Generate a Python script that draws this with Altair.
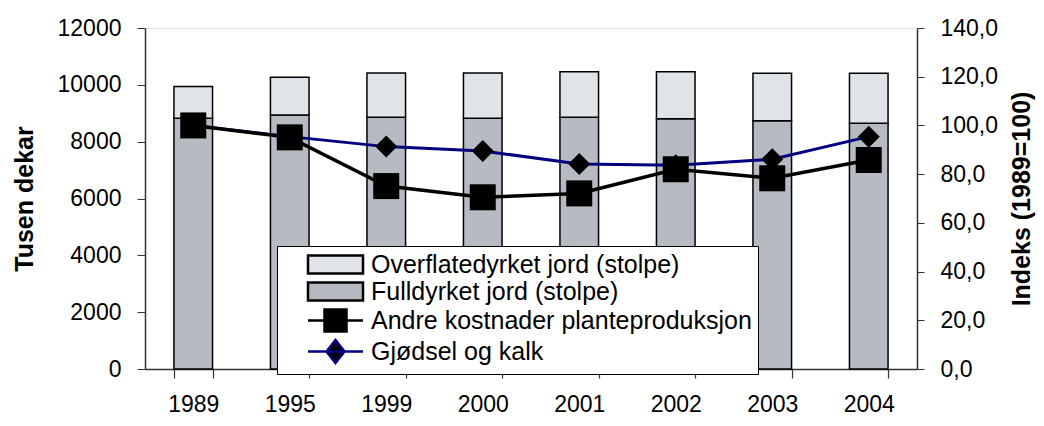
import altair as alt
import pandas as pd

years = ["1989", "1995", "1999", "2000", "2001", "2002", "2003", "2004"]
fulldyrket = [8820, 8940, 8860, 8820, 8860, 8810, 8740, 8650]
overflatedyrket = [1120, 1325, 1555, 1595, 1600, 1650, 1665, 1755]
andre_kostnader = [100.0, 95.1, 75.1, 70.5, 72.1, 82.0, 78.3, 85.8]
gjodsel_kalk = [100.0, 95.4, 91.3, 89.5, 84.2, 83.7, 86.1, 95.4]

legend_names = [
    "Overflatedyrket jord (stolpe)",
    "Fulldyrket jord (stolpe)",
    "Andre kostnader planteproduksjon",
    "Gjødsel og kalk",
]

FONT = "Liberation Sans, Arial, sans-serif"

df = pd.DataFrame({
    "year": years,
    "full": fulldyrket,
    "over": overflatedyrket,
    "andre": andre_kostnader,
    "gjodsel": gjodsel_kalk,
})
df["total"] = df["full"] + df["over"]

FULL_COLOR = "#b6bac2"
OVER_COLOR = "#e0e4e8"

xscale = alt.Scale(paddingInner=0.6, paddingOuter=0.3)
xaxis = alt.Axis(title=None, labelAngle=0, tickBand="extent", tickSize=9,
                 labelPadding=15, labelFontSize=23, labelFont=FONT,
                 labelColor="black", domainColor="#333", tickColor="#333",
                 domainWidth=1.5, tickWidth=1.2)
X = alt.X("year:N", scale=xscale, axis=xaxis, sort=years)

left_axis = alt.Axis(
    title="Tusen dekar", values=list(range(0, 12001, 2000)), format="d",
    grid=False, tickSize=8, labelPadding=16, labelFontSize=23, labelFont=FONT,
    labelColor="black", domainColor="#333", tickColor="#333", domainWidth=1.5,
    titleFont=FONT, titleFontSize=25, titleFontWeight="bold", titleColor="black",
    titleAngle=270, titleBaseline="middle", titleX=-121, titleY=170.5,
)
right_axis = alt.Axis(
    title="Indeks (1989=100)", orient="right", values=list(range(0, 141, 20)),
    labelExpr="replace(format(datum.value, '.1f'), '.', ',')",
    grid=False, tickSize=7, labelPadding=16, labelFontSize=23, labelFont=FONT,
    labelColor="black", domainColor="#333", tickColor="#333", domainWidth=1.5,
    titleFont=FONT, titleFontSize=25, titleFontWeight="bold", titleColor="black",
    titleAngle=270, titleBaseline="middle", titleX=104, titleY=170.5,
)

base = alt.Chart(df)

bars_full = base.mark_bar(color=FULL_COLOR, stroke="black", strokeWidth=1.5).encode(
    x=X,
    y=alt.Y("full:Q", scale=alt.Scale(domain=[0, 12000], nice=False), axis=left_axis),
)
bars_over = base.mark_bar(color=OVER_COLOR, stroke="black", strokeWidth=1.5).encode(
    x=X,
    y=alt.Y("full:Q"),
    y2=alt.Y2("total:Q"),
)
left = alt.layer(bars_full, bars_over)

YR = alt.Y("gjodsel:Q", scale=alt.Scale(domain=[0, 140], nice=False), axis=right_axis)
line_gj = base.mark_line(color="#000080", strokeWidth=3).encode(x=X, y=YR)
pts_gj = base.mark_point(shape="diamond", filled=True, color="black", size=484, opacity=1).encode(
    x=X, y=alt.Y("gjodsel:Q"))
line_an = base.mark_line(color="black", strokeWidth=3.5).encode(x=X, y=alt.Y("andre:Q"))
pts_an = base.mark_point(shape="square", filled=True, color="black", size=676, opacity=1).encode(
    x=X, y=alt.Y("andre:Q"))
right = alt.layer(line_gj, pts_gj, line_an, pts_an)

legend_fill = [OVER_COLOR, FULL_COLOR, "black", "black"]
legend_stroke = ["black", "black", "black", "#000080"]
legend_shapes = [
    "M-2.75,-0.9H2.75V0.9H-2.75Z",
    "M-2.75,-0.9H2.75V0.9H-2.75Z",
    "M-2.75,0H2.75M-1.1,-1.1H1.1V1.1H-1.1Z",
    "M-2.75,0H2.75M0,-1.15L0.9,0L0,1.15L-0.9,0Z",
]

def make_legend():
    return alt.Legend(
        title=None, orient="none", legendX=132, legendY=218, direction="vertical",
        fillColor="white", strokeColor="black", padding=6,
        symbolSize=400, symbolOffset=40, symbolStrokeWidth=2.5, labelOffset=23,
        labelFont=FONT, labelFontSize=25, labelColor="black", labelLimit=600,
        rowPadding=-2,
    )

legend_df = pd.DataFrame({"series": legend_names})
dummy = alt.Chart(legend_df).mark_point(filled=True, opacity=1, strokeWidth=2.5).encode(
    fill=alt.Fill("series:N", scale=alt.Scale(domain=legend_names, range=legend_fill), legend=make_legend()),
    stroke=alt.Stroke("series:N", scale=alt.Scale(domain=legend_names, range=legend_stroke), legend=make_legend()),
    shape=alt.Shape("series:N", scale=alt.Scale(domain=legend_names, range=legend_shapes), legend=make_legend()),
).transform_filter("false")

chart = alt.layer(left, right, dummy).resolve_scale(y="independent").properties(
    width=772, height=341,
    autosize=alt.AutoSizeParams(type="none"),
    padding={"left": 137, "top": 20, "right": 119, "bottom": 49},
).configure_view(stroke="#999", strokeWidth=1.5).configure(background="white")

chart.save("out.html", embed_options={"renderer": "svg", "actions": False})
